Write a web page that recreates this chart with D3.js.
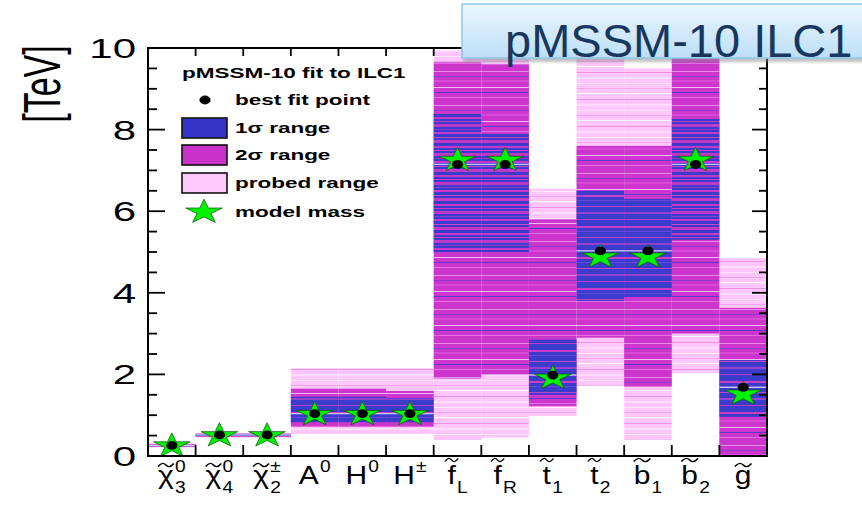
<!DOCTYPE html>
<html>
<head>
<meta charset="utf-8">
<script src="https://cdn.jsdelivr.net/npm/d3@7"></script>
<style>
  html, body { margin: 0; padding: 0; background: #fff; }
  svg { display: block; font-family: "Liberation Sans", Arial, Helvetica, sans-serif; }
</style>
</head>
<body>
<svg id="chart" width="862" height="507"></svg>
<script>
// ---- data (masses in TeV) ----
const categories = ["chi3", "chi4", "chi2pm", "A0", "H0", "Hpm", "fL", "fR", "t1", "t2", "b1", "b2", "g"];
const probedLo  = [0.21, 0.45, 0.45, 0.54, 0.54, 0.54, 0.40, 0.45, 0.98, 1.72, 0.40, 2.03, 0.00];
const probedHi  = [0.31, 0.56, 0.56, 2.15, 2.15, 2.15, 9.95, 9.90, 6.55, 9.75, 9.50, 9.75, 4.85];
const sigma2Lo  = [0.23, 0.47, 0.47, 0.72, 0.72, 0.72, 1.90, 2.00, 1.22, 2.90, 1.70, 3.00, 0.00];
const sigma2Hi  = [0.29, 0.55, 0.55, 1.65, 1.65, 1.60, 9.65, 9.60, 5.80, 7.60, 7.60, 9.75, 3.63];
const sigma1Lo  = [0.24, 0.49, 0.49, 0.83, 0.83, 0.83, 5.00, 5.00, 1.50, 3.80, 3.90, 5.30, 0.96];
const sigma1Hi  = [0.28, 0.53, 0.53, 1.45, 1.45, 1.40, 8.40, 7.90, 2.85, 6.50, 6.30, 8.30, 2.35];
const bestFit   = [0.26, 0.52, 0.52, 1.04, 1.04, 1.04, 7.15, 7.15, 1.98, 5.03, 5.03, 7.15, 1.68];
const modelMass = [0.25, 0.50, 0.50, 1.02, 1.02, 1.02, 7.25, 7.25, 1.91, 4.88, 4.88, 7.25, 1.52];

// axis labels
const yTickValues = [0, 2, 4, 6, 8, 10];
const labelBase  = ["χ", "χ", "χ", "A", "H", "H", "f", "f", "t", "t", "b", "b", "g"];
const labelSup   = ["0", "0", "±", "0", "0", "±", "", "", "", "", "", "", ""];
const labelSub   = ["3", "4", "2", "", "", "", "L", "R", "1", "2", "1", "2", ""];
const labelTilde = [true, true, true, false, false, false, true, true, true, true, true, true, true];

const legendTitle = "pMSSM-10 fit to ILC1";
const legendItems = ["best fit point", "1σ range", "2σ range", "probed range", "model mass"];
const bannerText = "pMSSM-10 ILC1";
const yTitle = "[TeV]";

// ---- layout ----
const SX = 1.5;               // horizontal glyph stretch of the plot's lettering
const plot = { left: 148, right: 767, top: 48, bottom: 456 };
const sparseOneSigma = new Set(["fL", "fR", "b2"]);

const svg = d3.select("#chart");
const x = d3.scaleBand().domain(categories).range([plot.left, plot.right]).padding(0);
const y = d3.scaleLinear().domain([0, 10]).range([plot.bottom, plot.top]);

// ---- stripe textures for the scanned ranges ----
const defs = svg.append("defs");
function stripePattern(id, base, height, stripes) {
  const p = defs.append("pattern").attr("id", id)
    .attr("patternUnits", "userSpaceOnUse").attr("width", 10).attr("height", height);
  p.append("rect").attr("width", 10).attr("height", height).attr("fill", base);
  stripes.forEach(([off, h, c]) => p.append("rect").attr("y", off).attr("width", 10).attr("height", h).attr("fill", c));
}
stripePattern("probedFill", "#ffc6fb", 27, [[2, 1, "#ffe6ff"], [7, 1, "#f6a6f0"], [12, 1, "#ffffff"], [18, 1, "#f090ea"], [23, 2, "#ffdcfd"]]);
stripePattern("sigma2Fill", "#cc36cc", 34, [[3, 1, "#e88ae8"], [8, 1, "#8f3ad0"], [12, 2, "#d84ad8"], [19, 1, "#f3b8f3"], [24, 1, "#5a3ad0"], [29, 1, "#e070e0"]]);
stripePattern("sigma1Fill", "#3c3ccc", 31, [[2, 1, "#b43cc8"], [9, 2, "#c83cc8"], [14, 1, "#6048d8"], [20, 1, "#c040c8"], [26, 2, "#9a40d0"]]);
stripePattern("sigma1Mixed", "#3c3ccc", 29, [[1, 2, "#c838c8"], [5, 1, "#cc36cc"], [8, 3, "#c038c8"], [13, 1, "#8a3ad0"], [16, 2, "#cc36cc"], [21, 1, "#d040d0"], [24, 3, "#c438c8"]]);

const shadow = defs.append("filter").attr("id", "soft").attr("x", "-5%").attr("y", "-20%").attr("width", "110%").attr("height", "160%");
shadow.append("feGaussianBlur").attr("stdDeviation", 1.6);

const grad = defs.append("linearGradient").attr("id", "bannerGrad").attr("x1", 0).attr("y1", 0).attr("x2", 0).attr("y2", 1);
grad.append("stop").attr("offset", "0%").attr("stop-color", "#eaf6fd");
grad.append("stop").attr("offset", "100%").attr("stop-color", "#bddff7");

defs.append("clipPath").attr("id", "plotClip").append("rect")
  .attr("x", plot.left).attr("y", plot.top).attr("width", plot.right - plot.left).attr("height", plot.bottom - plot.top);

// ---- range bars ----
const idx = d3.range(categories.length);
const bars = svg.append("g").attr("clip-path", "url(#plotClip)");
function band(lo, hi, fill) {
  bars.append("g").selectAll("rect").data(idx).join("rect")
    .attr("x", i => x(categories[i]))
    .attr("width", x.bandwidth())
    .attr("y", i => y(hi[i]))
    .attr("height", i => Math.max(1, y(lo[i]) - y(hi[i])))
    .attr("fill", typeof fill === "function" ? fill : () => fill);
}
band(probedLo, probedHi, "url(#probedFill)");
band(sigma2Lo, sigma2Hi, "url(#sigma2Fill)");
band(sigma1Lo, sigma1Hi, i => sparseOneSigma.has(categories[i]) ? "url(#sigma1Mixed)" : "url(#sigma1Fill)");

// pale trace at the best fit mass
bars.append("g").selectAll("line").data(idx).join("line")
  .attr("x1", i => x(categories[i])).attr("x2", i => x(categories[i]) + x.bandwidth())
  .attr("y1", i => y(bestFit[i])).attr("y2", i => y(bestFit[i]))
  .attr("stroke", "#c9c9f4").attr("stroke-width", 1.2);

// ---- markers ----
const starPath = d3.symbol().type(d3.symbolStar).size(185)();
function star(g, cx, cy) {
  g.append("path").attr("d", starPath)
    .attr("transform", `translate(${cx},${cy}) scale(${SX},1)`)
    .attr("fill", "#00f200").attr("stroke", "#0a5a0a").attr("stroke-width", 0.6);
}
function dot(g, cx, cy) {
  g.append("ellipse").attr("cx", cx).attr("cy", cy).attr("rx", 5.6).attr("ry", 4.4).attr("fill", "#000");
}
const marks = svg.append("g");
idx.forEach(i => star(marks, x(categories[i]) + x.bandwidth() / 2, y(modelMass[i])));
idx.forEach(i => dot(marks, x(categories[i]) + x.bandwidth() / 2, y(bestFit[i])));

// ---- frame and ticks ----
const axes = svg.append("g").attr("stroke", "#000").attr("fill", "none");
axes.append("rect").attr("x", plot.left).attr("y", plot.top)
  .attr("width", plot.right - plot.left).attr("height", plot.bottom - plot.top).attr("stroke-width", 2);
const yMinor = d3.range(0, 10.001, 0.5);
yMinor.forEach(v => {
  const major = yTickValues.includes(v);
  axes.append("line").attr("x1", plot.left).attr("x2", plot.left + (major ? 17 : 9))
    .attr("y1", y(v)).attr("y2", y(v)).attr("stroke-width", 1.8);
  axes.append("line").attr("x1", plot.right).attr("x2", plot.right - (major ? 15 : 8))
    .attr("y1", y(v)).attr("y2", y(v)).attr("stroke-width", 1.8);
});
categories.slice(1).forEach(c => {
  axes.append("line").attr("x1", x(c)).attr("x2", x(c)).attr("y1", plot.bottom).attr("y2", plot.bottom - 11).attr("stroke-width", 1.8);
  axes.append("line").attr("x1", x(c)).attr("x2", x(c)).attr("y1", plot.top).attr("y2", plot.top + 8).attr("stroke-width", 1.8);
});

// ---- y tick labels and title ----
const txt = svg.append("g").attr("fill", "#000");
yTickValues.forEach(v => {
  txt.append("text").attr("transform", `translate(136,${y(v) + 10}) scale(${SX},1)`)
    .attr("text-anchor", "end").attr("font-size", 28).text(d3.format("d")(v));
});
txt.append("text").attr("transform", `translate(60,84) scale(${SX},1) rotate(-90)`)
  .attr("text-anchor", "middle").attr("font-size", 34).text(yTitle);

// ---- category labels ----
idx.forEach(i => {
  const cx = x(categories[i]) + x.bandwidth() / 2;
  const outer = txt.append("g").attr("transform", `translate(${cx},484) scale(${SX * 0.8},1)`);
  const inner = outer.append("g");
  const base = inner.append("text").attr("font-size", 25).text(labelBase[i]);
  const bw = base.node().getComputedTextLength();
  let sw = 0;
  if (labelSup[i]) {
    const s = inner.append("text").attr("x", bw + 1).attr("y", -12).attr("font-size", 16).text(labelSup[i]);
    sw = Math.max(sw, s.node().getComputedTextLength());
  }
  if (labelSub[i]) {
    const s = inner.append("text").attr("x", bw + 1).attr("y", 9).attr("font-size", 16).text(labelSub[i]);
    sw = Math.max(sw, s.node().getComputedTextLength());
  }
  if (labelTilde[i]) {
    const tall = "ftb".includes(labelBase[i]);
    const ty = tall ? -24 : -19, w = Math.max(bw, 11), mx = bw / 2;
    inner.append("path")
      .attr("d", `M${mx - w / 2},${ty + 1.5} C${mx - w / 4},${ty - 3} ${mx - w / 8},${ty - 2} ${mx},${ty} S${mx + w / 4},${ty + 3} ${mx + w / 2},${ty - 1.5}`)
      .attr("fill", "none").attr("stroke", "#000").attr("stroke-width", 1.3);
  }
  const total = bw + (sw ? sw + 1 : 0);
  inner.attr("transform", `translate(${-total / 2},0)`);
});

// ---- legend ----
const lg = svg.append("g").attr("font-weight", "bold").attr("font-size", 15);
lg.append("text").attr("transform", `translate(182,78) scale(${SX},1)`).text(legendTitle);
const rowY = [100, 128, 155, 183, 212];
legendItems.forEach((t, k) => {
  lg.append("text").attr("transform", `translate(235,${rowY[k] + 5}) scale(${SX},1)`).text(t);
});
dot(lg, 205, rowY[0]);
["#3434c8", "#c832c8", "#ffc8fb"].forEach((c, k) => {
  lg.append("rect").attr("x", 182).attr("y", rowY[k + 1] - 10).attr("width", 45).attr("height", 20)
    .attr("fill", c).attr("stroke", "#111").attr("stroke-width", 1.6);
});
star(lg, 204, rowY[4]);

// ---- banner ----
const bn = svg.append("g");
bn.append("rect").attr("x", 463).attr("y", 8).attr("width", 420).attr("height", 54)
  .attr("fill", "#8c8c8c").attr("opacity", 0.55).attr("filter", "url(#soft)");
bn.append("rect").attr("x", 462).attr("y", 4).attr("width", 420).attr("height", 54)
  .attr("fill", "url(#bannerGrad)").attr("stroke", "#93c6ec").attr("stroke-width", 1.5);
bn.append("text").attr("x", 505).attr("y", 57).attr("font-size", 47).attr("fill", "#17375e").text(bannerText);
</script>
</body>
</html>
